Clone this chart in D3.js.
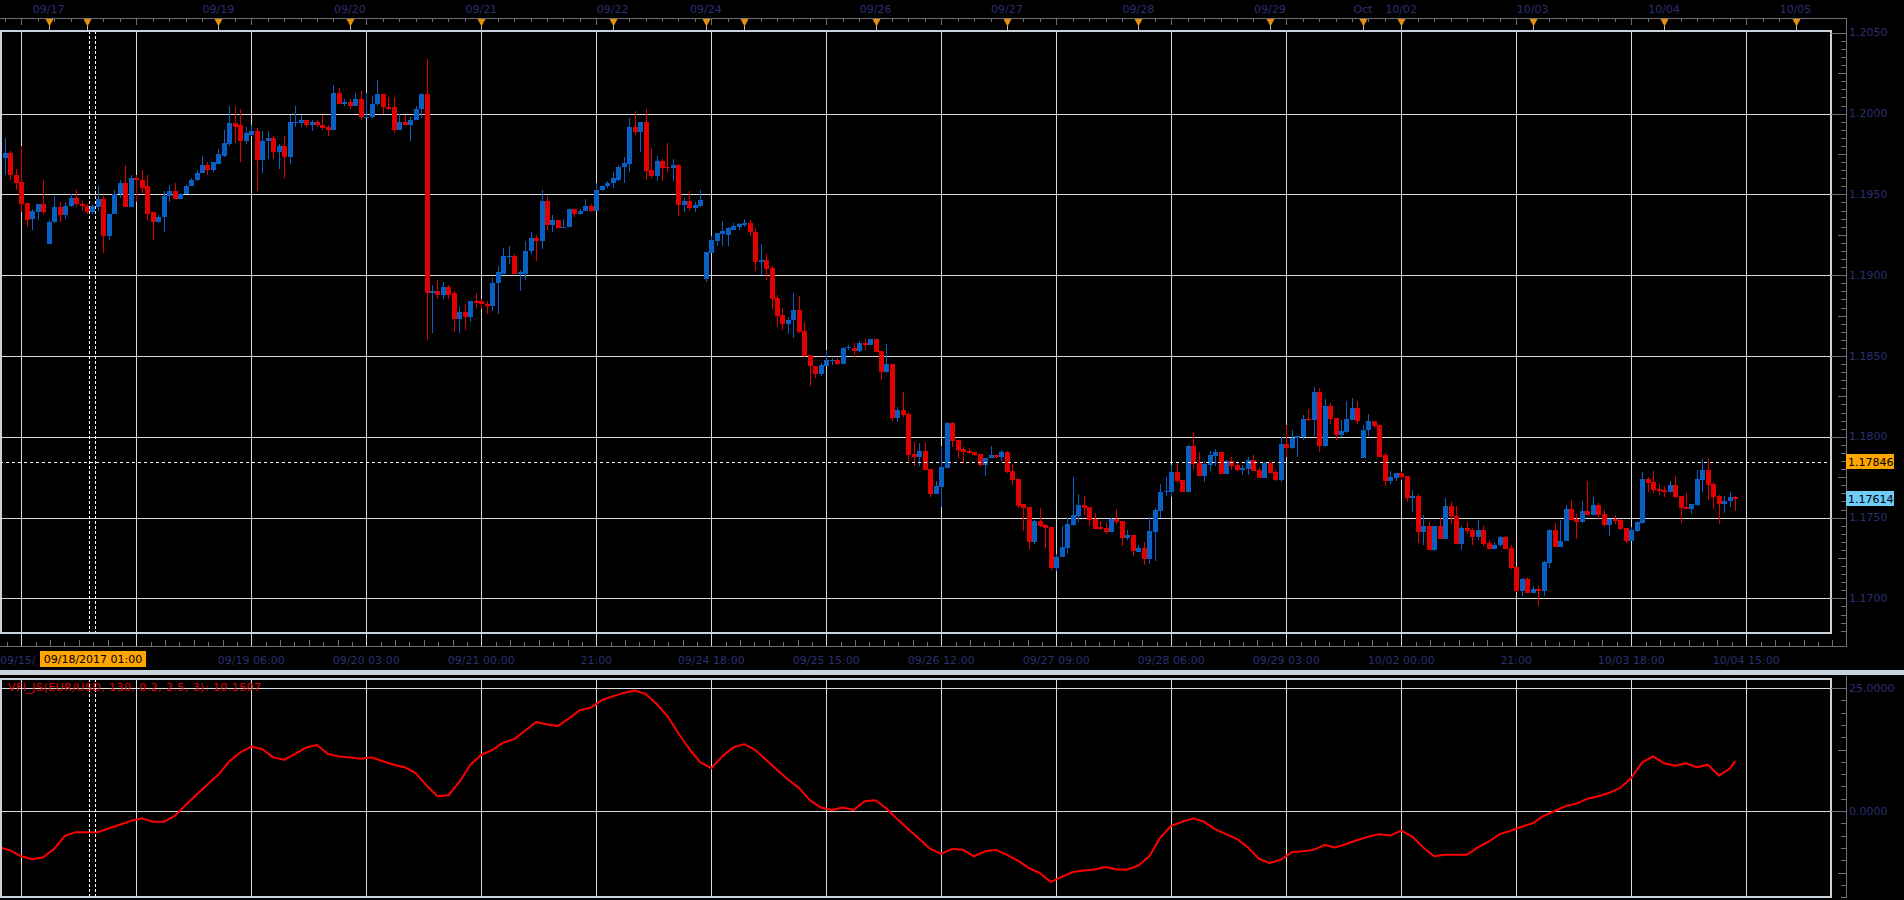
<!DOCTYPE html>
<html><head><meta charset="utf-8">
<script src="https://cdn.jsdelivr.net/npm/d3@7"></script>
<style>
html,body{margin:0;padding:0;background:#000;overflow:hidden}
svg{display:block}
text{font-family:"DejaVu Sans",Verdana,sans-serif;}
</style></head><body>
<svg id="c" width="1904" height="900"></svg>
<script>
// ---------- time axis data (hourly candles, weekends skipped) ----------
const sessDays = ["09/15","09/17","09/18","09/19","09/20","09/21","09/22","09/24","09/25","09/26","09/27","09/28","09/29","10/01","10/02","10/03","10/04","10/05"];
const sessStartHour = [8,17,0,0,0,0,0,17,0,0,0,0,0,17,0,0,0,0];
const sessCount = [9,7,24,24,24,24,17,7,24,24,24,24,17,7,24,24,24,1];
const topLabelDays = ["09/17","09/19","09/20","09/21","09/22","09/24","09/26","09/27","09/28","09/29","10/01","10/02","10/03","10/04","10/05"];
const topLabelText = ["09/17","09/19","09/20","09/21","09/22","09/24","09/26","09/27","09/28","09/29","Oct","10/02","10/03","10/04","10/05"];
const bottomIdx = [4,25,46,67,88,109,130,151,172,193,214,235,256,277,298,319];
const bottomLabels = ["09/15/","","09/19 06:00","09/20 03:00","09/21 00:00","21:00","09/24 18:00","09/25 15:00","09/26 12:00","09/27 09:00","09/28 06:00","09/29 03:00","10/02 00:00","21:00","10/03 18:00","10/04 15:00"];
const priceTicks = [1.2050,1.2000,1.1950,1.1900,1.1850,1.1800,1.1750,1.1700];
const vfiTicks = [25,0];
const crossIdx = 17, crossLabel = "09/18/2017 01:00", crossPrice = 1.17846, lastPrice = 1.17614;
const vfiLabel = "VFI_JS(EUR/USD, 130, 0.2, 2.5, 3): 10.1507";

// ---------- EUR/USD H1 candles ----------
const open = [
1.1948,1.19725,1.19754,1.1962,1.19574,1.19444,1.19345,1.1939,1.1944,1.1919,
1.1933,1.1942,1.1937,1.1943,1.1948,1.1944,1.1943,1.1939,1.1942,1.1947,
1.1924,1.1938,1.1950,1.1957,1.1942,1.1960,1.1959,1.1955,1.1939,1.1933,
1.1936,1.1949,1.1952,1.1947,1.1950,1.1955,1.1959,1.1963,1.1968,1.1965,
1.1969,1.1974,1.1981,1.1994,1.1993,1.1983,1.1987,1.1989,1.1971,1.1983,
1.1985,1.1976,1.1980,1.1973,1.1994,1.1994,1.1996,1.1993,1.1995,1.1993,
1.1992,1.1990,1.2013,1.2006,1.2007,1.2005,1.2009,1.1998,1.1998,1.2006,
1.2012,1.2004,1.2004,1.1990,1.1995,1.1993,1.1996,1.2003,1.2012,1.1889,
1.1890,1.1888,1.1893,1.1889,1.1873,1.1877,1.1874,1.1884,1.1884,1.1882,
1.1881,1.1895,1.1901,1.1912,1.1912,1.1901,1.1901,1.1915,1.1923,1.1921,
1.1946,1.1931,1.1934,1.1929,1.1930,1.1941,1.1938,1.1940,1.1943,1.1940,
1.1953,1.1955,1.1957,1.1959,1.19668,1.19686,1.19915,1.19884,1.19946,1.1965,
1.19612,1.19705,1.19668,1.19662,1.1968,1.19433,1.19457,1.19414,1.1943,1.18975,
1.1914,1.1921,1.19253,1.1925,1.1928,1.1930,1.1931,1.1932,1.1927,1.1908,
1.19092,1.19043,1.18857,1.18752,1.18696,1.1872,1.18783,1.18653,1.18504,1.1844,
1.18387,1.18436,1.1847,1.18473,1.18449,1.18548,1.18548,1.1853,1.1858,1.18566,
1.18603,1.1853,1.184,1.18449,1.18115,1.18164,1.1814,1.17891,1.17873,1.1791,
1.178,1.17644,1.1769,1.17805,1.18083,1.17978,1.17922,1.1791,1.17904,1.17891,
1.17824,1.17866,1.17885,1.17873,1.17904,1.17786,1.17737,1.17582,1.17564,1.17347,
1.17477,1.17452,1.1744,1.17186,1.17254,1.1731,1.17452,1.17508,1.17576,1.17564,
1.1749,1.1744,1.17434,1.17409,1.1749,1.17477,1.17372,1.1739,1.1729,1.1731,
1.17242,1.1741,1.1754,1.17657,1.17657,1.1778,1.17731,1.17657,1.17941,1.17836,
1.17755,1.17824,1.1788,1.17904,1.17768,1.17848,1.17824,1.17794,1.178,1.17854,
1.17792,1.17745,1.17835,1.1778,1.17732,1.17953,1.1793,1.1799,1.17996,1.18113,
1.18107,1.1828,1.1794,1.18193,1.18119,1.18014,1.18027,1.18107,1.18181,1.17866,
1.18039,1.181,1.1807,1.17885,1.17724,1.17743,1.17773,1.17755,1.17619,1.17632,
1.17409,1.17446,1.17298,1.17446,1.17366,1.1757,1.17508,1.17335,1.17434,1.17422,
1.17378,1.17422,1.17341,1.17304,1.17329,1.17378,1.1731,1.17193,1.17045,1.17119,
1.17033,1.17057,1.17045,1.17218,1.17422,1.17317,1.17354,1.17551,1.17489,1.17471,
1.17539,1.17514,1.17576,1.1752,1.17452,1.1749,1.17483,1.17434,1.17354,1.17415,
1.17465,1.17737,1.17718,1.17675,1.17669,1.17656,1.17699,1.17631,1.17563,1.17551,
1.17576,1.17731,1.17792,1.17706,1.17631,1.17582,1.176,1.17625];
const high = [
1.1976,1.1985,1.1977,1.1966,1.1980,1.19444,1.1941,1.1944,1.1959,1.1934,
1.1949,1.1945,1.1945,1.1950,1.1953,1.1946,1.1944,1.1944,1.1955,1.1949,
1.1938,1.1953,1.1959,1.1968,1.1962,1.1962,1.1965,1.1962,1.1939,1.1937,
1.1952,1.1956,1.1957,1.1951,1.1956,1.1960,1.1965,1.1974,1.1970,1.1970,
1.1978,1.1990,1.2005,1.2005,1.2003,1.1992,1.1993,1.1991,1.1989,1.1989,
1.1986,1.1981,1.1986,1.1999,1.2005,1.1999,1.1996,1.1996,1.1996,1.1999,
1.1993,1.2018,1.2016,1.2009,1.2009,1.2013,1.2014,1.2013,1.2011,1.2021,
1.2012,1.2010,1.2010,1.2000,1.1999,1.1998,1.2005,1.2013,1.2034,1.1894,
1.1897,1.1896,1.1894,1.1890,1.1881,1.1882,1.1884,1.1889,1.1885,1.1884,
1.1898,1.1906,1.1917,1.1918,1.1913,1.1903,1.1921,1.1927,1.1925,1.1953,
1.1949,1.1937,1.1934,1.1935,1.1941,1.1941,1.1941,1.1947,1.1944,1.1957,
1.1956,1.1958,1.1964,1.1968,1.1973,1.1997,1.20014,1.1995,1.2003,1.1979,
1.1974,1.1972,1.1982,1.1972,1.1969,1.1948,1.1952,1.1945,1.19526,1.19142,
1.1924,1.1926,1.19334,1.1930,1.1932,1.19322,1.1935,1.1934,1.1929,1.1919,
1.1913,1.1906,1.1888,1.1880,1.1874,1.18888,1.1887,1.1871,1.18504,1.1844,
1.18455,1.1854,1.18485,1.18485,1.18554,1.18567,1.18579,1.18591,1.18603,1.18603,
1.18603,1.1853,1.18572,1.18449,1.18183,1.18275,1.18152,1.1797,1.1796,1.1796,
1.178,1.17725,1.17941,1.1809,1.1809,1.17978,1.17935,1.17929,1.17904,1.17891,
1.17866,1.1794,1.17885,1.17916,1.1791,1.17829,1.17737,1.17582,1.17564,1.17483,
1.17557,1.17458,1.1744,1.17273,1.17446,1.17496,1.17749,1.17644,1.17632,1.17564,
1.17527,1.17477,1.17465,1.17496,1.17551,1.17477,1.17422,1.1739,1.17329,1.17347,
1.17502,1.17557,1.1771,1.17749,1.17824,1.17836,1.17731,1.17947,1.18028,1.17904,
1.1785,1.1791,1.17922,1.17904,1.17854,1.17873,1.1784,1.17827,1.17878,1.1789,
1.1781,1.17845,1.17843,1.17792,1.17996,1.18076,1.18045,1.18008,1.18132,1.18169,
1.18311,1.18305,1.18237,1.18212,1.18119,1.18101,1.18224,1.18243,1.18224,1.18076,
1.18138,1.181,1.1807,1.17897,1.17786,1.17773,1.17786,1.17755,1.17669,1.17645,
1.17514,1.1747,1.17446,1.17496,1.17619,1.17595,1.1757,1.17446,1.17471,1.17434,
1.17483,1.17446,1.17354,1.17348,1.17384,1.17384,1.17329,1.17193,1.17125,1.17131,
1.17076,1.17076,1.1723,1.17428,1.17465,1.17483,1.17576,1.17607,1.1752,1.17601,
1.17724,1.17625,1.17588,1.17545,1.1749,1.17514,1.1749,1.17434,1.1744,1.17477,
1.1778,1.1775,1.17786,1.17706,1.17694,1.17724,1.17755,1.17631,1.1765,1.17582,
1.17792,1.1786,1.17866,1.17718,1.17637,1.17631,1.17656,1.17631];
const low = [
1.1946,1.1962,1.1959,1.1953,1.1939,1.1930,1.1928,1.1934,1.1937,1.1919,
1.1932,1.1933,1.1935,1.1942,1.1942,1.1940,1.1938,1.1938,1.1940,1.1914,
1.1922,1.1938,1.1948,1.1942,1.1942,1.1945,1.1951,1.1934,1.1922,1.1932,
1.1927,1.1945,1.1947,1.1947,1.1950,1.1955,1.1958,1.1963,1.1962,1.1964,
1.1969,1.1973,1.1980,1.1982,1.1970,1.1981,1.1986,1.1952,1.1963,1.1972,
1.1972,1.1966,1.1960,1.1969,1.1992,1.1992,1.1992,1.1989,1.1992,1.1990,
1.1986,1.1990,1.2006,1.2005,1.2003,1.2005,1.1996,1.1997,1.1997,1.2005,
1.2000,1.2002,1.1988,1.1990,1.1993,1.1983,1.1996,1.1997,1.1860,1.1864,
1.1885,1.1885,1.1885,1.1865,1.1864,1.1866,1.1871,1.1880,1.1879,1.1876,
1.1878,1.1876,1.1901,1.1907,1.1901,1.1890,1.1897,1.1913,1.1909,1.1916,
1.1928,1.1927,1.1929,1.1929,1.1930,1.1936,1.1937,1.1940,1.1939,1.1940,
1.1952,1.1954,1.1954,1.1958,1.1957,1.1964,1.19866,1.1976,1.1959,1.1960,
1.1958,1.1958,1.1964,1.1958,1.19365,1.1939,1.1940,1.1939,1.1942,1.18956,
1.1914,1.1918,1.1918,1.1918,1.1928,1.1928,1.1930,1.1924,1.19024,1.1900,
1.1897,1.1879,1.18678,1.1866,1.18634,1.1861,1.1864,1.18492,1.18312,1.18362,
1.18375,1.18436,1.18443,1.18443,1.18449,1.18536,1.18493,1.18523,1.18536,1.18566,
1.18523,1.1835,1.18393,1.18096,1.1809,1.18121,1.17848,1.1782,1.17817,1.17793,
1.1763,1.17644,1.17564,1.17805,1.17935,1.17867,1.1784,1.17891,1.17879,1.17811,
1.17755,1.17866,1.17866,1.17848,1.17774,1.177,1.17557,1.17415,1.17304,1.17335,
1.1744,1.1731,1.17174,1.1717,1.17254,1.17273,1.17446,1.17471,1.17514,1.17446,
1.17428,1.17422,1.17397,1.17409,1.17459,1.17322,1.1736,1.1726,1.17285,1.17205,
1.17211,1.17229,1.17496,1.17632,1.17626,1.17712,1.17657,1.17657,1.17793,1.17755,
1.17718,1.17787,1.17817,1.17768,1.17768,1.17793,1.17787,1.17761,1.17761,1.17788,
1.17745,1.17745,1.17776,1.17726,1.1772,1.17874,1.17924,1.17876,1.17978,1.18095,
1.18008,1.17903,1.17934,1.18082,1.17983,1.17997,1.18021,1.18107,1.18082,1.17866,
1.18008,1.18052,1.17874,1.17695,1.17706,1.17724,1.1773,1.17594,1.17533,1.17341,
1.17329,1.17298,1.17292,1.17366,1.17366,1.17459,1.17335,1.17298,1.17397,1.17329,
1.1736,1.17323,1.17304,1.17304,1.17317,1.17304,1.17181,1.17039,1.17014,1.17033,
1.17033,1.16952,1.17014,1.17187,1.17317,1.17317,1.17354,1.17483,1.17366,1.17465,
1.17514,1.17514,1.1749,1.1744,1.17385,1.17459,1.17422,1.17341,1.17354,1.17409,
1.17459,1.17656,1.17651,1.17638,1.17626,1.1765,1.17619,1.17465,1.17551,1.1752,
1.1757,1.17656,1.1761,1.17551,1.17459,1.17526,1.17563,1.17539];
const close = [
1.1974,1.19754,1.19618,1.1957,1.1944,1.1934,1.19395,1.1944,1.1939,1.1933,
1.1942,1.1937,1.1943,1.1948,1.1944,1.1943,1.1939,1.1943,1.1947,1.1924,
1.1938,1.1950,1.1957,1.1942,1.1960,1.1959,1.1954,1.1938,1.1933,1.1936,
1.1949,1.1952,1.1947,1.1950,1.1955,1.1959,1.1963,1.1968,1.1965,1.1970,
1.1975,1.1982,1.1994,1.1992,1.1983,1.1988,1.1989,1.1971,1.1983,1.1985,
1.1976,1.1980,1.1973,1.1995,1.1995,1.1996,1.1993,1.1995,1.1993,1.1991,
1.1990,1.2013,1.2006,1.2007,1.2005,1.2009,1.1998,1.1998,1.2006,1.2012,
1.2004,1.2003,1.1990,1.1995,1.1993,1.1996,1.2003,1.2012,1.1889,1.1890,
1.1888,1.1893,1.1888,1.1873,1.1877,1.1874,1.1884,1.1883,1.1882,1.1881,
1.1895,1.1902,1.1912,1.1912,1.1901,1.1902,1.1915,1.1923,1.1921,1.1946,
1.1931,1.1934,1.1929,1.1930,1.1941,1.1938,1.1940,1.1943,1.1940,1.1953,
1.1955,1.1957,1.1960,1.1967,1.19693,1.19915,1.19884,1.19946,1.19643,1.19612,
1.19705,1.19662,1.19662,1.1968,1.19433,1.19457,1.19414,1.19433,1.19464,1.19142,
1.19216,1.1926,1.19272,1.1929,1.19303,1.19315,1.19321,1.19266,1.1908,1.19092,
1.19037,1.18851,1.18746,1.18696,1.18721,1.18783,1.18647,1.18498,1.18436,1.18387,
1.18442,1.18473,1.18473,1.18449,1.18548,1.18554,1.18529,1.18579,1.18566,1.18603,
1.18523,1.18399,1.18449,1.18115,1.18164,1.18133,1.17885,1.17873,1.1791,1.17793,
1.17644,1.17694,1.17811,1.18083,1.17972,1.17916,1.17904,1.17898,1.17885,1.17824,
1.17867,1.17885,1.17873,1.17904,1.1778,1.17731,1.1757,1.17557,1.17347,1.17477,
1.17446,1.17434,1.17186,1.17254,1.17316,1.17458,1.17514,1.17576,1.17557,1.17483,
1.17428,1.17428,1.17409,1.1749,1.17471,1.17372,1.1739,1.17291,1.1731,1.17242,
1.17415,1.17545,1.17657,1.17663,1.1778,1.17725,1.17657,1.17941,1.1783,1.17755,
1.1783,1.17885,1.17904,1.17768,1.17848,1.17817,1.17793,1.17804,1.17854,1.17788,
1.17745,1.17835,1.17776,1.17732,1.17953,1.1793,1.1799,1.18002,1.18113,1.18107,
1.1828,1.1794,1.18193,1.18113,1.18014,1.18033,1.18113,1.18181,1.181,1.18045,
1.181,1.18064,1.17878,1.17724,1.17749,1.17773,1.17749,1.17619,1.17632,1.17409,
1.17446,1.17298,1.17446,1.17366,1.1757,1.17508,1.17335,1.17434,1.17415,1.17378,
1.17422,1.17335,1.17304,1.17329,1.17378,1.17304,1.17187,1.17045,1.17119,1.17033,
1.17057,1.17045,1.17224,1.17422,1.17317,1.17354,1.17551,1.17483,1.17471,1.17539,
1.17514,1.17576,1.17514,1.17452,1.1749,1.17477,1.17428,1.17354,1.17422,1.17471,
1.17737,1.17712,1.17669,1.17663,1.17656,1.17699,1.17625,1.17557,1.17551,1.17582,
1.17737,1.17792,1.17699,1.17625,1.17582,1.176,1.17625,1.17614];

// ---------- VFI indicator (read every 2nd bar, plus last bar) ----------
const vfiBars = [0,2,4,6,8,10,12,14,16,18,20,22,24,26,28,30,32,34,36,38,40,42,44,46,48,50,52,54,56,58,60,62,64,66,68,70,72,74,76,78,80,82,84,86,88,90,92,94,96,98,100,102,104,106,108,110,112,114,116,118,120,122,124,126,128,130,132,134,136,138,140,142,144,146,148,150,152,154,156,158,160,162,164,166,168,170,172,174,176,178,180,182,184,186,188,190,192,194,196,198,200,202,204,206,208,210,212,214,216,218,220,222,224,226,228,230,232,234,236,238,240,242,244,246,248,250,252,254,256,258,260,262,264,266,268,270,272,274,276,278,280,282,284,286,288,290,292,294,296,298,300,302,304,306,308,310,312,314,316,317];
const vfi = [
-7.4,-8.0,-9.2,-9.8,-9.4,-7.7,-5.0,-4.3,-4.3,-4.3,
-3.5,-2.8,-2.0,-1.5,-2.2,-2.2,-1.0,1.2,3.3,5.4,
7.4,10.1,11.9,13.1,12.6,10.9,10.4,11.6,12.9,13.4,
11.6,11.1,10.9,10.6,10.9,10.1,9.4,8.9,7.7,5.2,
3.0,3.2,5.9,9.4,11.4,12.4,13.9,14.6,16.3,18.1,
17.6,17.3,18.8,20.5,21.0,22.5,23.3,24.0,24.5,23.8,
21.8,19.3,15.8,12.6,9.9,8.7,11.1,12.9,13.6,12.4,
10.4,8.4,6.4,4.7,2.2,0.7,0.2,0.7,0.2,2.0,
2.2,0.5,-1.7,-3.7,-5.7,-7.7,-8.7,-7.7,-7.9,-9.2,
-8.2,-7.9,-8.9,-10.1,-11.6,-12.6,-14.4,-13.4,-12.4,-12.1,
-11.9,-11.4,-11.9,-11.9,-11.1,-9.2,-5.4,-3.0,-2.2,-1.5,
-2.2,-3.7,-4.7,-5.7,-7.4,-9.7,-10.6,-9.9,-8.4,-8.2,
-7.9,-6.9,-7.4,-6.7,-5.9,-5.2,-4.7,-5.0,-4.0,-5.2,
-7.4,-9.2,-8.9,-8.9,-8.9,-7.4,-6.2,-4.7,-4.0,-3.2,
-2.5,-1.0,0.0,1.0,1.5,2.5,3.0,3.7,4.7,6.7,
9.9,11.1,9.7,9.2,9.7,8.9,9.4,7.2,8.6,10.15];

// ---------- layout ----------
const W=1904,H=900;
const PR=1831, MT=31, MB=633, IT=679, IB=897, AX=1846;
const TAXIS=18, BAXIS=646;
const COL_GRID="#d9d9d9", COL_BORDER="#c9d3dc", COL_AXIS="#6f6f6f", COL_TXT="#2c2f72";
const COL_UP="#0a60c2", COL_DN="#e00000";

const svg=d3.select("#c");
svg.append("rect").attr("width",W).attr("height",H).attr("fill","#000");

// build time info per bar
const bars=[];
sessDays.forEach((d,s)=>{for(let h=0;h<sessCount[s];h++) bars.push({day:d,hour:sessStartHour[s]+h,first:h===0});});
const nBars=bars.length; // 329
const x=d3.scaleLinear().domain([0,nBars-1]).range([-0.6,1795.5]);
const y=d3.scaleLinear().domain([1.17,1.2]).range([598.4,113.6]);
const yv=d3.scaleLinear().domain([0,25]).range([811,688]);
const px=v=>Math.round(v)+0.5;

svg.append("clipPath").attr("id","cm").append("rect").attr("x",0).attr("y",MT).attr("width",PR).attr("height",MB-MT);
svg.append("clipPath").attr("id","ci").append("rect").attr("x",0).attr("y",IT).attr("width",PR).attr("height",IB-IT);

// ---------- grids ----------
const gm=svg.append("g").attr("clip-path","url(#cm)");
gm.selectAll(".vg").data(bottomIdx).enter().append("line")
  .attr("x1",d=>px(x(d))).attr("x2",d=>px(x(d))).attr("y1",MT).attr("y2",MB)
  .attr("stroke",COL_GRID).attr("stroke-width",1);
gm.selectAll(".hg").data(priceTicks.filter(p=>p<1.204)).enter().append("line")
  .attr("x1",0).attr("x2",PR).attr("y1",d=>px(y(d))).attr("y2",d=>px(y(d)))
  .attr("stroke",COL_GRID).attr("stroke-width",1);

const gi=svg.append("g").attr("clip-path","url(#ci)");
gi.selectAll(".vg").data(bottomIdx).enter().append("line")
  .attr("x1",d=>px(x(d))).attr("x2",d=>px(x(d))).attr("y1",IT).attr("y2",IB)
  .attr("stroke",COL_GRID).attr("stroke-width",1);
gi.selectAll(".hg").data(vfiTicks).enter().append("line")
  .attr("x1",0).attr("x2",PR).attr("y1",d=>px(yv(d))).attr("y2",d=>px(yv(d)))
  .attr("stroke",COL_GRID).attr("stroke-width",1);

// ---------- candles ----------
const candles=open.map((o,i)=>({i,o,h:high[i],l:low[i],c:close[i]}));
const cg=gm.append("g");
candles.forEach(d=>{
  const cx=Math.round(x(d.i));
  const col=d.c>=d.o?COL_UP:COL_DN;
  const yh=Math.round(y(d.h)), yl=Math.round(y(d.l));
  cg.append("rect").attr("x",cx).attr("y",yh).attr("width",1).attr("height",Math.max(1,yl-yh)).attr("fill",col);
  const top=Math.round(y(Math.max(d.o,d.c))), bot=Math.round(y(Math.min(d.o,d.c)));
  cg.append("rect").attr("x",cx-2).attr("y",top).attr("width",5).attr("height",Math.max(1,bot-top)).attr("fill",col);
});

// ---------- VFI line ----------
gi.append("path").datum(vfi.map((v,k)=>[vfiBars[k],v]))
  .attr("d",d3.line().x(d=>x(d[0])).y(d=>yv(d[1])))
  .attr("fill","none").attr("stroke","#ff0000").attr("stroke-width",2).attr("stroke-linejoin","round");

// ---------- crosshair ----------
const cxh=x(crossIdx);
[[MT,MB],[IT,IB]].forEach(([a,b])=>{
  [-3,3].forEach(off=>{
    svg.append("line").attr("x1",px(cxh+off)).attr("x2",px(cxh+off)).attr("y1",a).attr("y2",b)
      .attr("stroke","#ffffff").attr("stroke-width",1).attr("stroke-dasharray","3,2");
  });
});
svg.append("line").attr("x1",0).attr("x2",PR).attr("y1",px(y(crossPrice))).attr("y2",px(y(crossPrice)))
  .attr("stroke","#ffffff").attr("stroke-width",1).attr("stroke-dasharray","3,3");

// ---------- panel borders ----------
svg.append("rect").attr("x",1).attr("y",MT).attr("width",PR-1).attr("height",MB-MT)
  .attr("fill","none").attr("stroke",COL_BORDER).attr("stroke-width",2);
svg.append("rect").attr("x",1).attr("y",IT).attr("width",PR-1).attr("height",IB-IT)
  .attr("fill","none").attr("stroke",COL_BORDER).attr("stroke-width",2);
svg.append("rect").attr("x",0).attr("y",670).attr("width",W).attr("height",5).attr("fill",COL_BORDER);

// ---------- top axis ----------
const ta=svg.append("g");
ta.append("line").attr("x1",0).attr("x2",AX+0.5).attr("y1",TAXIS+0.5).attr("y2",TAXIS+0.5).attr("stroke",COL_AXIS);
bars.forEach((b,i)=>{
  const xx=x(i); if(xx<0||xx>AX) return;
  if(b.hour%3===0){
    ta.append("line").attr("x1",px(xx)).attr("x2",px(xx)).attr("y1",TAXIS).attr("y2",TAXIS+(bottomIdx.includes(i)?7:4)).attr("stroke",COL_AXIS);
  }
});
bars.forEach((b,i)=>{
  if(!b.first||i===0) return;
  const xx=Math.round(x(i))+0.5;
  ta.append("line").attr("x1",xx).attr("x2",xx).attr("y1",25).attr("y2",MT).attr("stroke","#bdbdbd");
  ta.append("path").attr("d",`M${xx-4},19L${xx+4},19L${xx},26.5Z`).attr("fill","#e8900c");
});
topLabelDays.forEach((d,k)=>{
  const i=bars.findIndex(b=>b.day===d&&b.first);
  ta.append("text").attr("x",x(i)).attr("y",9).attr("text-anchor","middle").attr("dominant-baseline","central")
    .attr("font-size",11).attr("fill",COL_TXT).text(topLabelText[k]);
});

// ---------- bottom axis ----------
const ba=svg.append("g");
ba.append("line").attr("x1",0).attr("x2",AX+0.5).attr("y1",BAXIS+0.5).attr("y2",BAXIS+0.5).attr("stroke",COL_AXIS);
for(let k=-2;k<140;k++){
  const idx=bottomIdx[0]+k*21/8, xx=x(idx);
  if(xx<0||xx>AX) continue;
  const major=(k%8===0);
  ba.append("line").attr("x1",px(xx)).attr("x2",px(xx)).attr("y1",major?MB:BAXIS-(k%2?4:6)).attr("y2",BAXIS)
    .attr("stroke",major?COL_GRID:COL_AXIS);
}
bottomIdx.forEach((idx,k)=>{
  if(!bottomLabels[k]) return;
  const first=k===0;
  ba.append("text").attr("x",first?0:x(idx)).attr("y",660).attr("text-anchor",first?"start":"middle")
    .attr("dominant-baseline","central").attr("font-size",11).attr("fill",COL_TXT).text(bottomLabels[k]);
});
ba.append("rect").attr("x",40).attr("y",651).attr("width",106).attr("height",16).attr("fill","#ffa500");
ba.append("text").attr("x",93).attr("y",659.5).attr("text-anchor","middle").attr("dominant-baseline","central")
  .attr("font-size",11).attr("fill","#000").text(crossLabel);

// ---------- right axes ----------
const ra=svg.append("g");
ra.append("line").attr("x1",AX+0.5).attr("x2",AX+0.5).attr("y1",TAXIS).attr("y2",BAXIS+1).attr("stroke",COL_AXIS);
ra.append("line").attr("x1",AX+0.5).attr("x2",AX+0.5).attr("y1",676).attr("y2",IB+1).attr("stroke",COL_AXIS);
for(let k=0;k<=80;k++){
  const p=1.1670+k*0.0005, yy=y(p);
  if(yy<MT-1||yy>MB+1) continue;
  const m10=Math.round(p*10000)%50===0, m5=Math.round(p*10000)%25===0;
  ra.append("line").attr("x1",m10?PR:AX-(m5?8:5)).attr("x2",AX).attr("y1",px(yy)).attr("y2",px(yy)).attr("stroke",COL_AXIS);
}
priceTicks.forEach(p=>{
  ra.append("text").attr("x",1849).attr("y",y(p)).attr("dominant-baseline","central")
    .attr("font-size",11).attr("fill",COL_TXT).text(p.toFixed(4));
});
for(let k=-8;k<=11;k++){
  const v=k*2.5, yy=yv(v);
  if(yy<IT-1||yy>IB+1) continue;
  const major=(k%10===0), mid=(k%5===0);
  ra.append("line").attr("x1",major?PR:AX-(mid?8:5)).attr("x2",AX).attr("y1",px(yy)).attr("y2",px(yy)).attr("stroke",COL_AXIS);
}
vfiTicks.forEach(v=>{
  ra.append("text").attr("x",1849).attr("y",yv(v)).attr("dominant-baseline","central")
    .attr("font-size",11).attr("fill",COL_TXT).text(v.toFixed(4));
});
[[crossPrice,"#ffa500"],[lastPrice,"#6ccbf7"]].forEach(([p,c])=>{
  const yy=Math.round(y(p));
  ra.append("rect").attr("x",1846).attr("y",yy-8).attr("width",48).attr("height",15).attr("fill",c);
  ra.append("text").attr("x",1848).attr("y",yy).attr("dominant-baseline","central")
    .attr("font-size",11).attr("fill","#000").text(p.toFixed(5));
});

// ---------- indicator label ----------
svg.append("text").attr("x",8).attr("y",687).attr("dominant-baseline","central")
  .attr("font-size",11).attr("fill","#e00000").attr("textLength",253).attr("lengthAdjust","spacing").text(vfiLabel);
</script>
</body></html>
